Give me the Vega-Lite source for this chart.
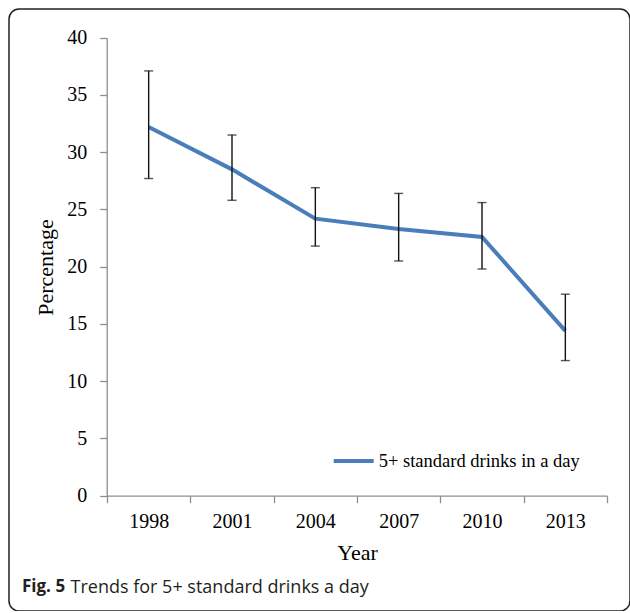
{
  "$schema": "https://vega.github.io/schema/vega-lite/v6.json",
  "width": 621,
  "height": 602,
  "autosize": {"type": "none"},
  "padding": {"left": 9, "top": 9, "right": 0, "bottom": 0},
  "background": "white",
  "title": {
    "text": "Fig. 5",
    "orient": "bottom",
    "anchor": "start",
    "frame": "group",
    "baseline": "alphabetic",
    "dx": 13,
    "offset": -19,
    "font": "Open Sans",
    "fontSize": 17,
    "fontWeight": "bold",
    "color": "#231f20"
  },
  "config": {
    "view": {"stroke": "#222222", "strokeWidth": 1.5, "cornerRadius": 10, "fill": "white"},
    "axis": {
      "domainColor": "#8e8e8e",
      "domainWidth": 1.3,
      "tickColor": "#8e8e8e",
      "tickWidth": 1.3,
      "tickSize": 7,
      "grid": false,
      "labelFont": "Liberation Serif",
      "labelFontSize": 20,
      "labelColor": "#000000",
      "titleFont": "Liberation Serif",
      "titleFontSize": 22,
      "titleFontWeight": "normal",
      "titleColor": "#000000"
    }
  },
  "data": {
    "values": [
      {"year": "1998", "pct": 32.2, "lo": 27.7, "hi": 37.1},
      {"year": "2001", "pct": 28.5, "lo": 25.8, "hi": 31.5},
      {"year": "2004", "pct": 24.2, "lo": 21.8, "hi": 26.9},
      {"year": "2007", "pct": 23.3, "lo": 20.5, "hi": 26.4},
      {"year": "2010", "pct": 22.6, "lo": 19.8, "hi": 25.6},
      {"year": "2013", "pct": 14.4, "lo": 11.8, "hi": 17.6}
    ]
  },
  "layer": [
    {
      "mark": {"type": "line", "strokeWidth": 4},
      "encoding": {
        "x": {
          "field": "year",
          "type": "nominal",
          "sort": null,
          "scale": {"range": [98, 598], "paddingInner": 0, "paddingOuter": 0},
          "axis": {
            "orient": "bottom",
            "offset": -115.3,
            "labelAngle": 0,
            "tickBand": "extent",
            "labelPadding": 9,
            "title": "Year",
            "titleBaseline": "alphabetic",
            "titleY": 64
          }
        },
        "y": {
          "field": "pct",
          "type": "quantitative",
          "scale": {"domain": [0, 40], "range": [486.7, 28.7], "nice": false},
          "axis": {
            "offset": -97.7,
            "values": [0, 5, 10, 15, 20, 25, 30, 35, 40],
            "labelPadding": 13,
            "title": "Percentage",
            "titleX": -60.7,
            "titleY": 258,
            "titleBaseline": "middle",
            "titleAlign": "center",
            "titleAngle": -90
          }
        },
        "color": {
          "datum": "5+ standard drinks in a day",
          "type": "nominal",
          "scale": {"range": ["#4a7ebb"]},
          "legend": {
            "orient": "none",
            "legendX": 322.7,
            "legendY": 430,
            "title": null,
            "padding": 0,
            "symbolType": "stroke",
            "symbolSize": 1600,
            "symbolStrokeWidth": 4,
            "labelOffset": 3,
            "labelFont": "Liberation Serif",
            "labelFontSize": 18.5,
            "labelColor": "#000000",
            "labelLimit": 400
          }
        }
      }
    },
    {
      "mark": {
        "type": "errorbar",
        "color": "#111111",
        "thickness": 1.4,
        "ticks": {"size": 9, "thickness": 1.4, "color": "#111111"}
      },
      "encoding": {
        "x": {
          "field": "year",
          "type": "nominal",
          "sort": null,
          "axis": {
            "orient": "bottom",
            "offset": 0,
            "labels": false,
            "ticks": false,
            "domain": false,
            "title": "Trends for 5+ standard drinks a day",
            "titleFont": "Open Sans",
            "titleFontSize": 18,
            "titleFontWeight": "normal",
            "titleColor": "#231f20",
            "titleAlign": "left",
            "titleBaseline": "alphabetic",
            "titleX": 61,
            "titleY": -18.5
          }
        },
        "y": {"field": "lo", "type": "quantitative", "title": "Percentage"},
        "y2": {"field": "hi"}
      }
    }
  ],
  "resolve": {"axis": {"x": "independent"}}
}
